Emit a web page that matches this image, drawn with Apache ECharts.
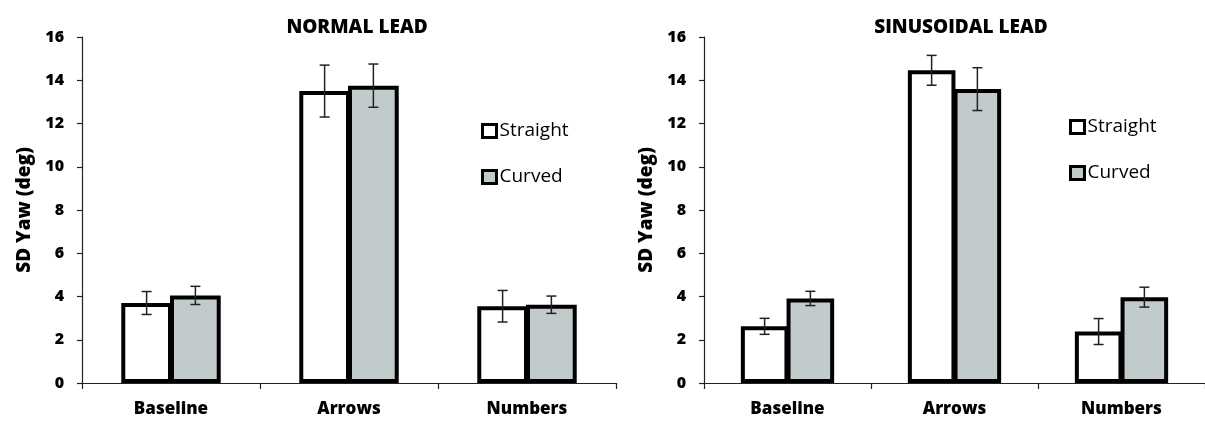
<!DOCTYPE html>
<html>
<head>
<meta charset="utf-8">
<script src="https://cdn.jsdelivr.net/npm/echarts@6/dist/echarts.min.js"></script>
<style>
  html, body { margin: 0; padding: 0; background: #fff; }
  #chart { width: 1205px; height: 422px; }
</style>
</head>
<body>
<div id="chart"></div>
<script>
var chart = echarts.init(document.getElementById('chart'));

let categories = ['Baseline', 'Arrows', 'Numbers'];
let yTicks = [0, 2, 4, 6, 8, 10, 12, 14, 16];

// NORMAL LEAD
let normalStraight = [3.7, 13.5, 3.55];
let normalStraightErr = [0.53, 1.2, 0.73];
let normalCurved = [4.05, 13.75, 3.62];
let normalCurvedErr = [0.42, 1.0, 0.4];

// SINUSOIDAL LEAD
let sinStraight = [2.62, 14.46, 2.38];
let sinStraightErr = [0.37, 0.69, 0.6];
let sinCurved = [3.91, 13.59, 3.97];
let sinCurvedErr = [0.33, 0.99, 0.46];

let font = '"Open Sans", Lato, sans-serif';
let heavy = 800;
let curvedColor = '#c1cbcb';

let errData = function(vals, errs) {
    return vals.map((v, i) => [i, v - errs[i], v + errs[i]]);
};

let errSeries = function(vals, errs, shift, idx) {
    return {
        type: 'custom',
        xAxisIndex: idx,
        yAxisIndex: idx,
        z: 10,
        silent: true,
        encode: { x: 0, y: [1, 2] },
        data: errData(vals, errs),
        renderItem: function(params, api) {
            var band = api.size([1, 0])[0];
            var lo = api.coord([api.value(0), api.value(1)]);
            var hi = api.coord([api.value(0), api.value(2)]);
            var x = lo[0] + band * shift;
            var cap = 5;
            var style = { stroke: '#222', lineWidth: 1.5 };
            return {
                type: 'group',
                children: [
                    { type: 'line', shape: { x1: x, y1: lo[1], x2: x, y2: hi[1] }, style: style },
                    { type: 'line', shape: { x1: x - cap, y1: lo[1], x2: x + cap, y2: lo[1] }, style: style },
                    { type: 'line', shape: { x1: x - cap, y1: hi[1], x2: x + cap, y2: hi[1] }, style: style }
                ]
            };
        }
    };
};

let barSeries = function(name, vals, color, idx) {
    return {
        name: name,
        type: 'bar',
        xAxisIndex: idx,
        yAxisIndex: idx,
        data: vals,
        barWidth: '28.5%',
        barGap: '-4%',
        itemStyle: {
            color: color,
            borderColor: '#000',
            borderWidth: 4
        }
    };
};

let xAxis = function(idx) {
    return {
        type: 'category',
        gridIndex: idx,
        data: categories,
        axisLine: { lineStyle: { color: '#222', width: 1.2 } },
        axisTick: { show: true, length: 6, lineStyle: { color: '#222', width: 1.2 } },
        axisLabel: { color: '#000', fontFamily: font, fontWeight: heavy, fontSize: 17, margin: 18 }
    };
};

let yAxis = function(idx) {
    return {
        type: 'value',
        gridIndex: idx,
        min: yTicks[0],
        max: yTicks[yTicks.length - 1],
        interval: yTicks[1] - yTicks[0],
        name: 'SD Yaw (deg)',
        nameLocation: 'middle',
        nameGap: 48,
        nameTextStyle: { color: '#000', fontFamily: font, fontWeight: heavy, fontSize: 19 },
        splitLine: { show: false },
        axisLine: { show: true, lineStyle: { color: '#222', width: 1.2 } },
        axisTick: { show: true, inside: false, length: 5, lineStyle: { color: '#222', width: 1.2 } },
        axisLabel: { color: '#000', fontFamily: font, fontWeight: heavy, fontSize: 16, margin: 18 }
    };
};

let legend = function(left, top) {
    return {
        left: left,
        top: top,
        padding: 0,
        orient: 'vertical',
        selectedMode: false,
        icon: 'rect',
        itemWidth: 14,
        itemHeight: 13,
        itemGap: 26,
        data: ['Straight', 'Curved'],
        itemStyle: { borderColor: '#000', borderWidth: 3 },
        textStyle: { color: '#000', fontFamily: font, fontSize: 19, lineHeight: 20, padding: [0, 0, 0, -2] }
    };
};

option = {
    backgroundColor: '#fff',
    animation: false,
    title: [{
        text: 'NORMAL LEAD',
        left: 352,
        top: 13,
        textAlign: 'center',
        textStyle: { color: '#000', fontFamily: font, fontWeight: heavy, fontSize: 19 }
    }, {
        text: 'SINUSOIDAL LEAD',
        left: 956,
        top: 13,
        textAlign: 'center',
        textStyle: { color: '#000', fontFamily: font, fontWeight: heavy, fontSize: 19 }
    }],
    legend: [legend(481, 121), legend(1069, 117)],
    grid: [
        { left: 82, top: 37, width: 534, height: 346 },
        { left: 704, top: 37, width: 504, height: 346 }
    ],
    xAxis: [xAxis(0), xAxis(1)],
    yAxis: [yAxis(0), yAxis(1)],
    series: [
        barSeries('Straight', normalStraight, '#fff', 0),
        barSeries('Curved', normalCurved, curvedColor, 0),
        errSeries(normalStraight, normalStraightErr, -0.137, 0),
        errSeries(normalCurved, normalCurvedErr, 0.137, 0),
        barSeries('Straight', sinStraight, '#fff', 1),
        barSeries('Curved', sinCurved, curvedColor, 1),
        errSeries(sinStraight, sinStraightErr, -0.137, 1),
        errSeries(sinCurved, sinCurvedErr, 0.137, 1)
    ]
};
chart.setOption(option);
</script>
</body>
</html>
